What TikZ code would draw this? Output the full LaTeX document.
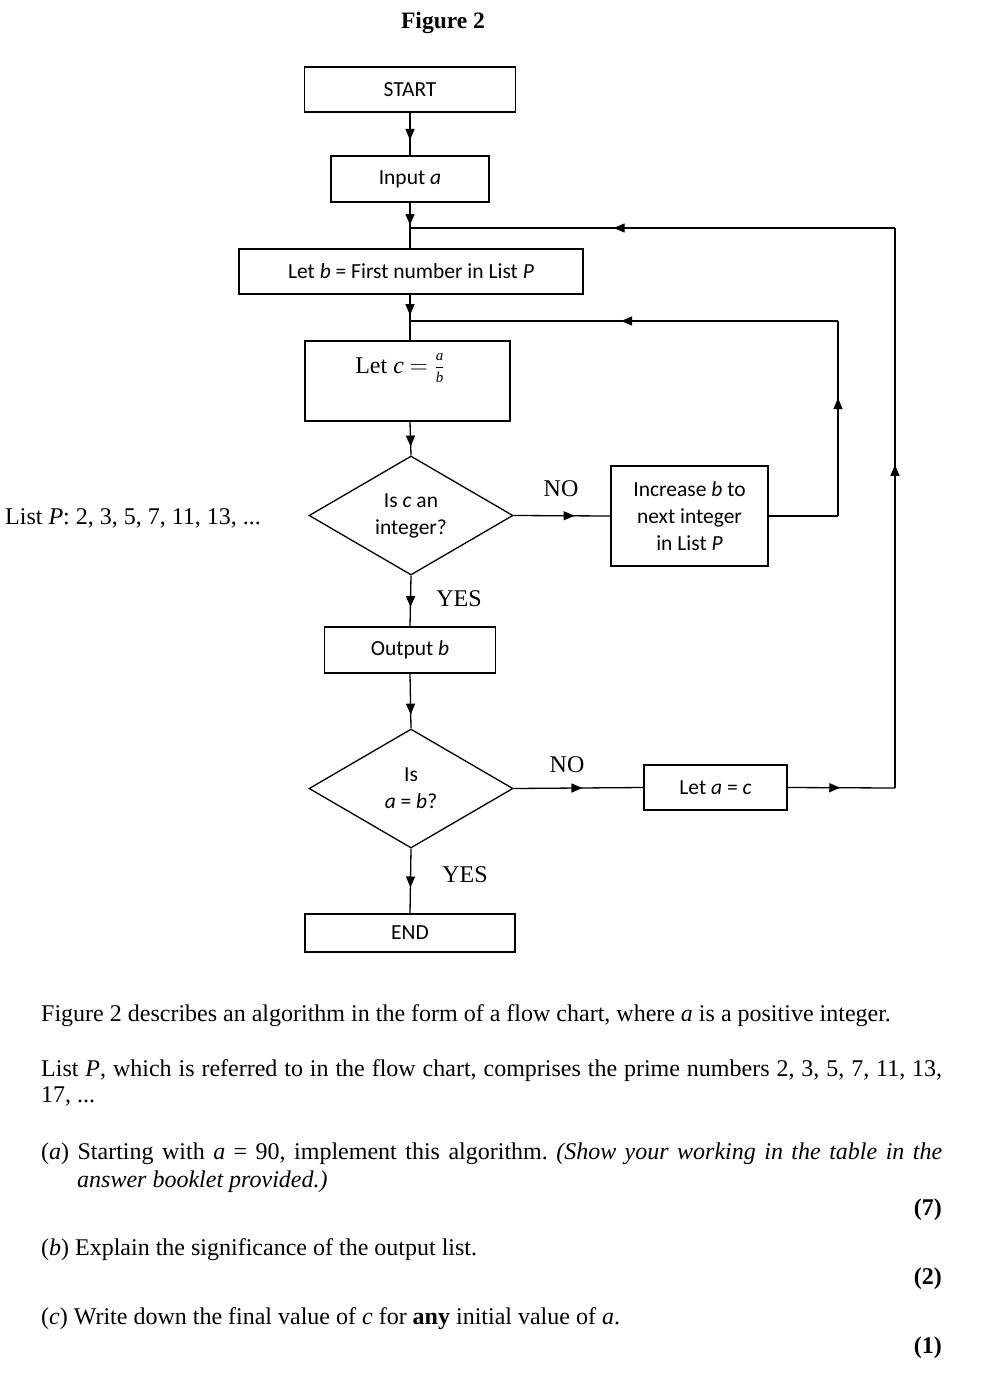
\documentclass[tikz,border=0pt]{standalone}
\usepackage{fontspec}
\setmainfont{Liberation Serif}
\newfontfamily\calfont{Carlito}
\usetikzlibrary{shapes.geometric,arrows.meta,decorations.markings}
\frenchspacing
\tikzset{
  box/.style={draw,line width=1.3pt,rectangle,inner sep=0pt,font=\calfont\fontsize{21.5}{27}\selectfont,align=center},
  dia/.style={draw,line width=1.3pt,diamond,inner sep=0pt,minimum width=204pt,minimum height=119pt,font=\calfont\fontsize{21.5}{27}\selectfont,align=center},
  conn/.style={line width=1.3pt},
  midarrow/.style={postaction={decorate},decoration={markings,mark=at position #1 with {\arrow{Triangle[length=11pt,width=9pt]}}}},
  lab/.style={font=\fontsize{24}{28}\selectfont},
  para/.style={anchor=base west,inner sep=0pt,font=\fontsize{24}{28}\selectfont},
  marks/.style={anchor=base east,inner sep=0pt,font=\bfseries\fontsize{24}{28}\selectfont},
}
\newcommand{\smit}[1]{\hbox{\fontsize{15}{15}\selectfont\itshape #1}}
\begin{document}
\begin{tikzpicture}[x=1pt,y=-1pt]
\useasboundingbox[fill=white] (0,0) rectangle (994,1376);
\node[anchor=base,inner sep=0pt,font=\bfseries\fontsize{23.5}{27}\selectfont] (title) at (443,28) {Figure 2};

% boxes
\node[box,minimum width=211pt,minimum height=45pt] (start) at (410,89.5) {START};
\node[box,minimum width=158pt,minimum height=46pt] (input) at (410,179) {Input \textit{a}};
\node[box,minimum width=344pt,minimum height=45pt] (letb) at (411,271.5) {Let \textit{b} = First number in List \textit{P}};
\node[box,minimum width=205pt,minimum height=80pt] (letc) at (407.5,381) {};
\node[anchor=center,inner sep=0pt,font=\fontsize{24}{28}\selectfont] (letctext) at (400,368) {Let \textit{c} $=\frac{\smit{a}\vphantom{\rule[-6pt]{0pt}{1pt}}}{\rule{0pt}{15pt}\smit{b}}$};
\node[dia] (d1) at (411,515.5) {Is \textit{c} an\\integer?};
\node[box,minimum width=157pt,minimum height=100pt] (incr) at (689.5,516) {Increase \textit{b} to\\next integer\\in List \textit{P}};
\node[box,minimum width=171pt,minimum height=46pt] (output) at (410,650) {Output \textit{b}};
\node[dia] (d2) at (411,788.5) {Is\\\textit{a} = \textit{b}?};
\node[box,minimum width=143pt,minimum height=45pt] (leta) at (715.5,787.5) {Let \textit{a} = \textit{c}};
\node[box,minimum width=210pt,minimum height=38pt] (end) at (410,933) {END};

% coordinates for loops
\coordinate (j1) at (410,228);
\coordinate (j2) at (410,321);
\coordinate (c1) at (838,516);
\coordinate (c2) at (838,321);
\coordinate (r1) at (895,788);
\coordinate (r2) at (895,228);

% main column
\draw[conn,midarrow=0.64] (start.south) -- (input.north);
\draw[conn,midarrow=0.49] (input.south) -- (input.south |- letb.north);
\draw[conn,midarrow=0.45] (input.south |- letb.south) -- (input.south |- letc.north);
\draw[conn,midarrow=0.74] (input.south |- letc.south) -- (d1.north);
\draw[conn,midarrow=0.62] (d1.south) -- (output.north);
\draw[conn,midarrow=0.75] (output.south) -- (d2.north);
\draw[conn,midarrow=0.6] (d2.south) -- (end.north);

% NO branch 1
\draw[conn,midarrow=0.63] (d1.east) -- (incr.west);
\draw[conn] (incr.east) -- (c1);
\draw[conn,midarrow=0.605] (c1) -- (c2);
\draw[conn,midarrow=0.507] (c2) -- (j2);

% NO branch 2
\draw[conn,midarrow=0.53] (d2.east) -- (leta.west);
\draw[conn,midarrow=0.49] (leta.east) -- (r1);
\draw[conn,midarrow=0.577] (r1) -- (r2);
\draw[conn,midarrow=0.58] (r2) -- (j1);

% labels
\node[lab] (no1) at (561,489) {NO};
\node[lab] (yes1) at (459,599) {YES};
\node[lab] (no2) at (567,765) {NO};
\node[lab] (yes2) at (465,875) {YES};
\node[para] (listp) at (5,524) {List \textit{P}: 2, 3, 5, 7, 11, 13, ...};

% text
\node[para] (t1) at (41,1021) {Figure 2 describes an algorithm in the form of a flow chart, where \textit{a} is a positive integer.};
\node[para] (t2) at (41,1076) {\makebox[901pt][s]{List \textit{P}, which is referred to in the flow chart, comprises the prime numbers 2, 3, 5, 7, 11, 13,}};
\node[para] (t3) at (41,1102) {17, ...};
\node[para] (t4) at (41,1159) {\makebox[901pt][s]{(\textit{a}) Starting with \textit{a} = 90, implement this algorithm. \textit{(Show your working in the table in the}}};
\node[para] (t5) at (77,1187) {\textit{answer booklet provided.)}};
\node[marks] (m7) at (942,1215) {(7)};
\node[para] (t6) at (41,1255) {(\textit{b}) Explain the significance of the output list.};
\node[marks] (m2) at (942,1284) {(2)};
\node[para] (t7) at (41,1324) {(\textit{c}) Write down the final value of \textit{c} for \textbf{any} initial value of \textit{a}.};
\node[marks] (m1) at (942,1353) {(1)};
\end{tikzpicture}
\end{document}
